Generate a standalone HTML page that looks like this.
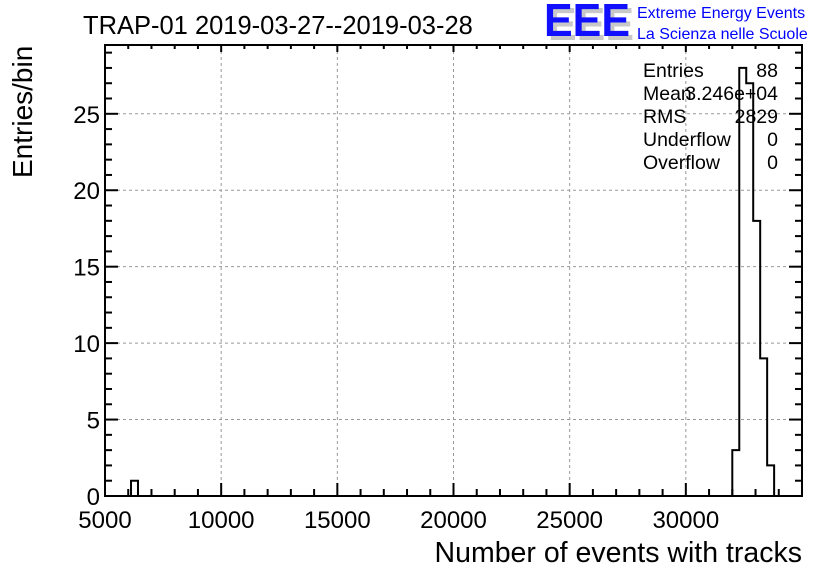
<!DOCTYPE html>
<html><head><meta charset="utf-8"><style>
html,body{margin:0;padding:0;background:#fff;}
svg{display:block;font-family:"Liberation Sans",sans-serif;}
</style></head><body>
<svg id="c" width="836" height="572" viewBox="0 0 836 572">
<text x="83" y="34" font-size="25.5">TRAP-01 2019-03-27--2019-03-28</text>
<g>
<text x="548" y="40" font-size="46" fill="#c8c8c8" font-weight="bold" textLength="86" lengthAdjust="spacingAndGlyphs">EEE</text>
<text x="544" y="36" font-size="46" fill="#1010ff" font-weight="bold" textLength="86" lengthAdjust="spacingAndGlyphs">EEE</text>
<text x="637" y="18" font-size="16" fill="#0000ff">Extreme Energy Events</text>
<text x="637" y="39" font-size="16" fill="#0000ff">La Scienza nelle Scuole</text>
</g>
<g id="grid"></g>
<g id="hist"></g>
<g id="axes"></g>
<g font-size="19.5">
<text x="643" y="77">Entries</text><text x="778" y="77" text-anchor="end">88</text>
<text x="643" y="100">Mean</text><text x="778" y="100" text-anchor="end">3.246e+04</text>
<text x="643" y="123">RMS</text><text x="778" y="123" text-anchor="end">2829</text>
<text x="643" y="146">Underflow</text><text x="778" y="146" text-anchor="end">0</text>
<text x="643" y="169">Overflow</text><text x="778" y="169" text-anchor="end">0</text>
</g>
<text x="802" y="562" font-size="28.5" text-anchor="end">Number of events with tracks</text>
<text transform="translate(32,178) rotate(-90)" font-size="28" text-anchor="start">Entries/bin</text>
</svg>
<script>
const binStarts=[6120,32000,32300,32600,32900,33200,33500];
const binCounts=[1,3,28,27,18,9,2];
const binWidth=300;
const xTicks=[5000,10000,15000,20000,25000,30000];
const yTicks=[0,5,10,15,20,25];
const X0=105,X1=802,Y0=496,Y1=45,xmin=5000,xmax=35000,ymin=0,ymax=29.5;
const NS="http://www.w3.org/2000/svg";
function xs(v){return X0+(v-xmin)/(xmax-xmin)*(X1-X0);}
function ys(v){return Y0-(v-ymin)/(ymax-ymin)*(Y0-Y1);}
function mk(p,t,a){const e=document.createElementNS(NS,t);for(const k in a)e.setAttribute(k,a[k]);p.appendChild(e);return e;}
const grid=document.getElementById('grid'),hist=document.getElementById('hist'),axes=document.getElementById('axes');
xTicks.forEach(v=>{const l=mk(grid,'line',{x1:xs(v),x2:xs(v),y1:Y1,y2:Y0,stroke:'#999','stroke-dasharray':'3,3'});

});
yTicks.forEach(v=>{const l=mk(grid,'line',{x1:X0,x2:X1,y1:ys(v),y2:ys(v),stroke:'#999','stroke-dasharray':'3,3'});

});
let d='';
binStarts.forEach((s,i)=>{const xa=xs(s),xb=xs(s+binWidth),yt=ys(binCounts[i]);
const contig=i>0&&Math.abs(binStarts[i-1]+binWidth-s)<1;
if(!contig){if(d)d+=`V${Y0}`;d+=`M${xa},${Y0}`;}
d+=`V${yt}H${xb}`;});
d+=`V${Y0}`;
const p=mk(hist,'path',{d:d,fill:'none',stroke:'#000','stroke-width':2});


const fr=mk(axes,'rect',{x:X0,y:Y1,width:X1-X0,height:Y0-Y1,fill:'none',stroke:'#000','stroke-width':2});


for(let v=xmin;v<=xmax;v+=1000){const maj=v%5000===0,L=maj?13:7;
mk(axes,'line',{x1:xs(v),x2:xs(v),y1:Y0,y2:Y0-L,stroke:'#000','stroke-width':2});
mk(axes,'line',{x1:xs(v),x2:xs(v),y1:Y1,y2:Y1+(maj?7:4),stroke:'#000','stroke-width':2});}
for(let v=0;v<=29;v++){const maj=v%5===0,L=maj?13:7;
mk(axes,'line',{x1:X0,x2:X0+L,y1:ys(v),y2:ys(v),stroke:'#000','stroke-width':2});
mk(axes,'line',{x1:X1,x2:X1-L,y1:ys(v),y2:ys(v),stroke:'#000','stroke-width':2});}
xTicks.forEach(v=>{const t=mk(axes,'text',{x:xs(v),y:528,'font-size':24,'text-anchor':'middle'});t.textContent=v;

});
yTicks.forEach(v=>{const t=mk(axes,'text',{x:100,y:ys(v)+9,'font-size':24,'text-anchor':'end'});t.textContent=v;

});
</script>
</body></html>
